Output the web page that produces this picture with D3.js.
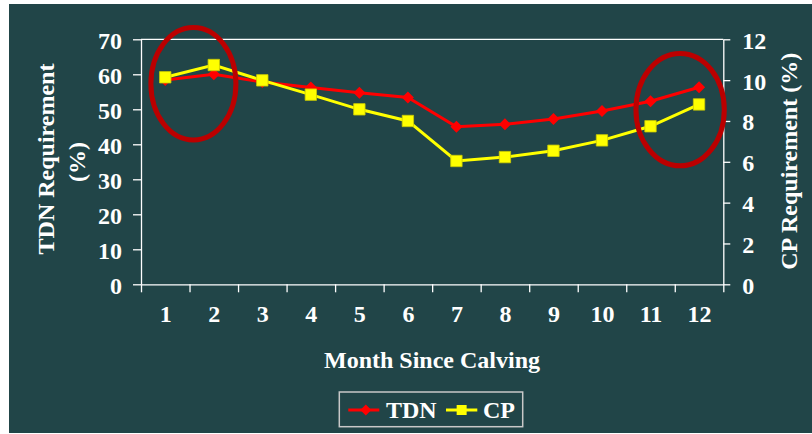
<!DOCTYPE html>
<html><head><meta charset="utf-8">
<script src="https://cdn.jsdelivr.net/npm/d3@7"></script>
<style>
html,body{margin:0;padding:0;background:#fff;}
svg{display:block;}
</style></head>
<body>
<svg id="chart" width="812" height="434"></svg>
<script>
// ---- data ----
const months = [1,2,3,4,5,6,7,8,9,10,11,12];
const tdn = [58.4, 60.0, 57.8, 56.2, 54.7, 53.4, 45.0, 45.7, 47.2, 49.5, 52.3, 56.3];
const cp  = [10.14, 10.74, 9.99, 9.29, 8.57, 8.0, 6.04, 6.23, 6.54, 7.05, 7.74, 8.81];
const leftTicks = [0,10,20,30,40,50,60,70];
const rightTicks = [0,2,4,6,8,10,12];
const seriesNames = ["TDN","CP"];
// annotation ellipses in data units (month position, TDN value, radii)
const highlights = [
  {month: 1.58, value: 57.3, rMonths: 0.876, rValue: 16.06},
  {month: 11.61, value: 49.9, rMonths: 0.91, rValue: 16.06}
];

const FONT = '"Liberation Serif","Times New Roman",serif';
const FS = 24;
const svg = d3.select("#chart");
svg.append("rect").attr("x",9).attr("y",4).attr("width",803).attr("height",429).attr("fill","#214548");

const L = 141, R = 723.3, T = 39.3, B = 284.3;
const x = d3.scaleLinear().domain([0.5, 12.5]).range([L, R]);
const yL = d3.scaleLinear().domain([0, 70]).range([B, T]);
const yR = d3.scaleLinear().domain([0, 12]).range([B, T]);

function txt(sel){
  return sel.style("font-family",FONT).style("font-weight","bold").style("font-size",FS+"px").attr("fill","#fff");
}

// top border
svg.append("line").attr("x1",L).attr("x2",R).attr("y1",T).attr("y2",T)
  .attr("stroke","#fff").attr("stroke-width",1.3);

const gL = svg.append("g").attr("transform",`translate(${L},0)`)
  .call(d3.axisLeft(yL).tickValues(leftTicks).tickSize(8).tickPadding(11).tickSizeOuter(0));
const gR = svg.append("g").attr("transform",`translate(${R},0)`)
  .call(d3.axisRight(yR).tickValues(rightTicks).tickSize(7).tickPadding(12).tickSizeOuter(0));
const bounds = d3.range(0.5, 13, 1);
const gB = svg.append("g").attr("transform",`translate(0,${B})`)
  .call(d3.axisBottom(x).tickValues(bounds).tickSize(8).tickFormat("").tickSizeOuter(0));
const gB2 = svg.append("g").attr("transform",`translate(0,${B})`)
  .call(d3.axisBottom(x).tickValues(months).tickSize(0).tickPadding(38).tickFormat(d3.format("d")));
gB2.select(".domain").remove();

[gL,gR,gB,gB2].forEach(g=>{
  g.attr("font-family",null).attr("font-size",null);
  g.selectAll(".domain").attr("stroke","#fff").attr("stroke-width",1.3);
  g.selectAll(".tick line").attr("stroke","#fff").attr("stroke-width",1.3);
  txt(g.selectAll(".tick text"));
});
gL.selectAll(".tick text").attr("dy","0.37em");
gR.selectAll(".tick text").attr("dy","0.37em");
gB2.selectAll(".tick text").attr("dy","0");

// axis titles
txt(svg.append("text").attr("x",432).attr("y",368.3).attr("text-anchor","middle")).text("Month Since Calving");
txt(svg.append("text").attr("transform","translate(53.5,159) rotate(-90)").attr("text-anchor","middle")).text("TDN Requirement");
txt(svg.append("text").attr("transform","translate(84.5,162) rotate(-90)").attr("text-anchor","middle")).text("(%)");
txt(svg.append("text").attr("transform","translate(796.7,161.3) rotate(-90)").attr("text-anchor","middle")).text("CP Requirement (%)");

// series
const tdnData = months.map((m,i)=>({m, v: tdn[i]}));
const cpData = months.map((m,i)=>({m, v: cp[i]}));
svg.append("path").datum(tdnData)
  .attr("d", d3.line().x(d=>x(d.m)).y(d=>yL(d.v)))
  .attr("fill","none").attr("stroke","#ff0000").attr("stroke-width",3);
svg.append("path").datum(cpData)
  .attr("d", d3.line().x(d=>x(d.m)).y(d=>yR(d.v)))
  .attr("fill","none").attr("stroke","#ffff00").attr("stroke-width",3);

svg.append("g").selectAll("path").data(tdnData).join("path")
  .attr("transform",d=>`translate(${x(d.m)},${yL(d.v)}) rotate(45)`)
  .attr("d", d3.symbol().type(d3.symbolSquare).size(72)).attr("fill","#ff0000");
svg.append("g").selectAll("path").data(cpData).join("path")
  .attr("transform",d=>`translate(${x(d.m)},${yR(d.v)})`)
  .attr("d", d3.symbol().type(d3.symbolSquare).size(130)).attr("fill","#ffff00")
  .attr("stroke","#cccc00").attr("stroke-width",0.8);

// highlight ellipses
const mUnit = x(1) - x(0), vUnit = yL(0) - yL(1);
svg.append("g").selectAll("ellipse").data(highlights).join("ellipse")
  .attr("cx",d=>x(d.month)).attr("cy",d=>yL(d.value))
  .attr("rx",d=>d.rMonths*mUnit).attr("ry",d=>d.rValue*vUnit)
  .attr("fill","none").attr("stroke","#bb0000").attr("stroke-width",5);

// legend
const lg = svg.append("g");
lg.append("rect").attr("x",339.3).attr("y",392).attr("width",183.4).attr("height",34.7)
  .attr("fill","none").attr("stroke","#c8c8c8").attr("stroke-width",1.5);
const legendItems = [
  {name: seriesNames[0], color:"#ff0000", x0:348.3, x1:379.3, tx:386},
  {name: seriesNames[1], color:"#ffff00", x0:446, x1:477.3, tx:483}
];
legendItems.forEach((it,i)=>{
  lg.append("line").attr("x1",it.x0).attr("x2",it.x1).attr("y1",410).attr("y2",410)
    .attr("stroke",it.color).attr("stroke-width",3);
  const cx = (it.x0+it.x1)/2 + (i===0?2:0);
  if(i===0){
    lg.append("path").attr("transform",`translate(${cx},410) rotate(45)`)
      .attr("d", d3.symbol().type(d3.symbolSquare).size(60)).attr("fill",it.color);
  } else {
    lg.append("path").attr("transform",`translate(${cx},410)`)
      .attr("d", d3.symbol().type(d3.symbolSquare).size(100)).attr("fill",it.color);
  }
  txt(lg.append("text").attr("x",it.tx).attr("y",418.3)).text(it.name);
});
</script>
</body></html>
